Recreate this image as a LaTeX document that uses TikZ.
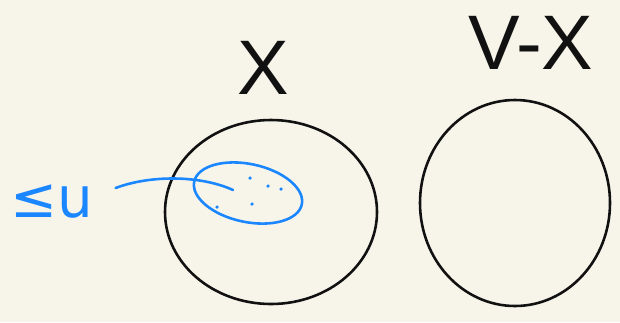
\documentclass[tikz,border=0pt]{standalone}
\usepackage{fontspec}
\setsansfont{Liberation Sans}
\newfontfamily\symfont{DejaVu Sans}
\usetikzlibrary{arrows.meta,positioning,shapes.geometric}
\definecolor{paper}{HTML}{F7F5EA}
\definecolor{ink}{HTML}{111111}
\definecolor{pen}{HTML}{1A86FF}
\tikzset{
  every node/.style={text=ink},
  setblob/.style={ellipse,draw=ink,line width=2.2pt,inner sep=0pt},
  subblob/.style={ellipse,draw=pen,line width=2.2pt,inner sep=0pt,rotate=-12},
  setname/.style={font=\sffamily\fontsize{66}{66}\selectfont,inner sep=0pt},
  bound/.style={font=\symfont\fontsize{48}{48}\selectfont,text=pen,inner sep=0pt},
  penline/.style={draw=pen,line width=2.2pt,line cap=round},
  speck/.style={fill=pen,circle,inner sep=0pt,minimum size=3pt}
}
\begin{document}
\begin{tikzpicture}[x=0.03cm,y=-0.03cm]
  \fill[paper] (0,0) rectangle (620,322);
  \useasboundingbox (0,0) rectangle (620,322);

  % the two sets
  \node[setblob,minimum width=212*0.03cm,minimum height=184*0.03cm] (xset) at (271,212) {};
  \node[setblob,minimum width=190*0.03cm,minimum height=206*0.03cm] (rest) at (515,203) {};
  \node[setname] (xname) at (263,68) {X};
  \node[setname] (restname) at (531,43) {V-X};

  % the subset inside X
  \node[subblob,minimum width=110*0.03cm,minimum height=58*0.03cm] (sub) at (248,193) {};
  \node[speck] (s1) at (217,207) {};
  \node[speck] (s2) at (252,204) {};
  \node[speck] (s3) at (268,186) {};
  \node[speck] (s4) at (281,189) {};
  \node[speck] (s5) at (250,178) {};
  \coordinate (tip) at (233,190);

  \node[bound] (le) at (52,202) {≤u};
  \draw[penline] (le.east)++(22,-14) .. controls (150,175) and (200,175) .. (tip);
\end{tikzpicture}
\end{document}
